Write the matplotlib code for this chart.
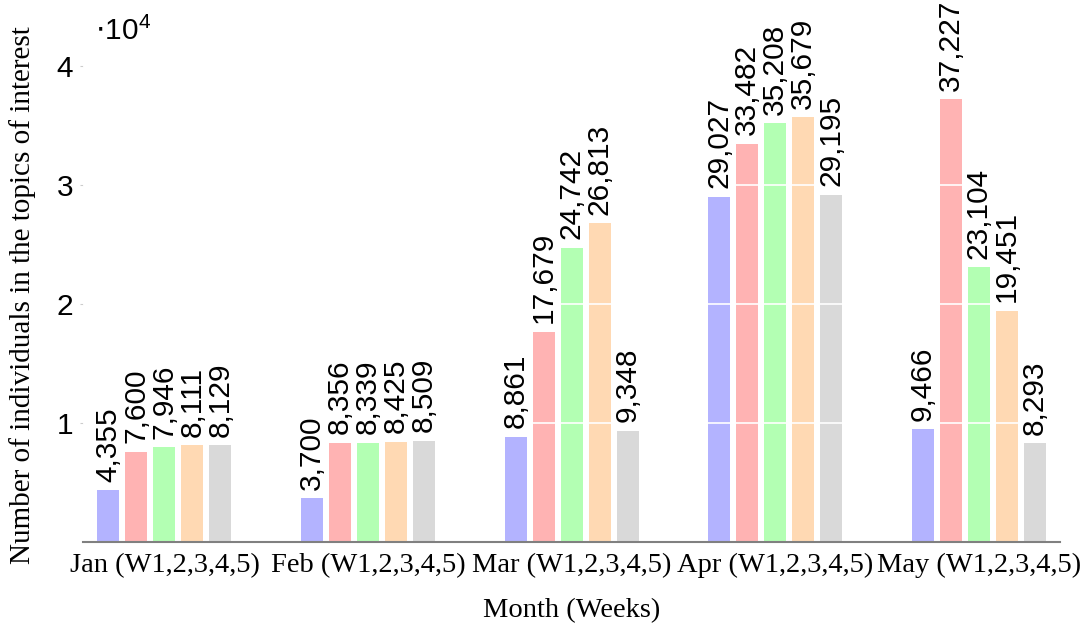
import numpy as np
import matplotlib
matplotlib.use('Agg')
from matplotlib import pyplot as plt

# data
months = ['Jan (W1,2,3,4,5)', 'Feb (W1,2,3,4,5)', 'Mar (W1,2,3,4,5)',
          'Apr (W1,2,3,4,5)', 'May (W1,2,3,4,5)']
week1 = [4355, 3700, 8861, 29027, 9466]
week2 = [7600, 8356, 17679, 33482, 37227]
week3 = [7946, 8339, 24742, 35208, 23104]
week4 = [8111, 8425, 26813, 35679, 19451]
week5 = [8129, 8509, 9348, 29195, 8293]

colors = ['#b3b3ff', '#ffb3b3', '#b3ffb3', '#ffd9b3', '#d9d9d9']
serif = ['Liberation Serif', 'DejaVu Serif']
sans = ['Liberation Sans', 'DejaVu Sans']

fig = plt.figure(figsize=(10.87, 6.26), dpi=100)
ax = fig.add_axes([0.0764, 0.1342, 0.8988, 0.8364])

x = np.arange(len(months))
width = 0.108
step = 0.1375
series = [week1, week2, week3, week4, week5]
for i, vals in enumerate(series):
    pos = x + (i - 2) * step
    bars = ax.bar(pos, vals, width, color=colors[i], edgecolor='none', zorder=2)
    for b, v in zip(bars, vals):
        ax.annotate('{:,}'.format(v), (b.get_x() + b.get_width() / 2, v),
                    xytext=(0, 6), textcoords='offset points',
                    ha='center', va='bottom', rotation=90,
                    fontsize=21.5, family=sans, zorder=4)

# white grid lines over the bars
for yv in [1e4, 2e4, 3e4, 4e4]:
    ax.axhline(yv, color='white', lw=1.2, zorder=3)

ax.set_xlim(-0.4, 4.4)
ax.set_ylim(0, 4.4e4)
ax.set_xticks(x)
ax.set_xticklabels(months, fontsize=20.5, family=serif)
ax.set_yticks([1e4, 2e4, 3e4, 4e4])
ax.set_yticklabels(['1', '2', '3', '4'], fontsize=21.5, family=sans)
ax.tick_params(axis='x', length=0, pad=8)
ax.tick_params(axis='y', length=2, color='#cccccc', pad=5)
for s in ['top', 'right', 'left']:
    ax.spines[s].set_visible(False)
ax.spines['bottom'].set_color('#808080')
ax.spines['bottom'].set_linewidth(1.5)

ax.set_xlabel('Month (Weeks)', fontsize=20.5, family=serif, labelpad=14)
ax.set_ylabel('Number of individuals in the topics of interest',
              fontsize=21, family=serif)
ax.yaxis.set_label_coords(-0.048, 0.472)
fig.text(0.087, 0.95, r'$\cdot\mathregular{10^4}$', fontsize=21.5,
         family=sans, va='center', ha='left')

plt.savefig('out.png', dpi=100)
plt.close()
